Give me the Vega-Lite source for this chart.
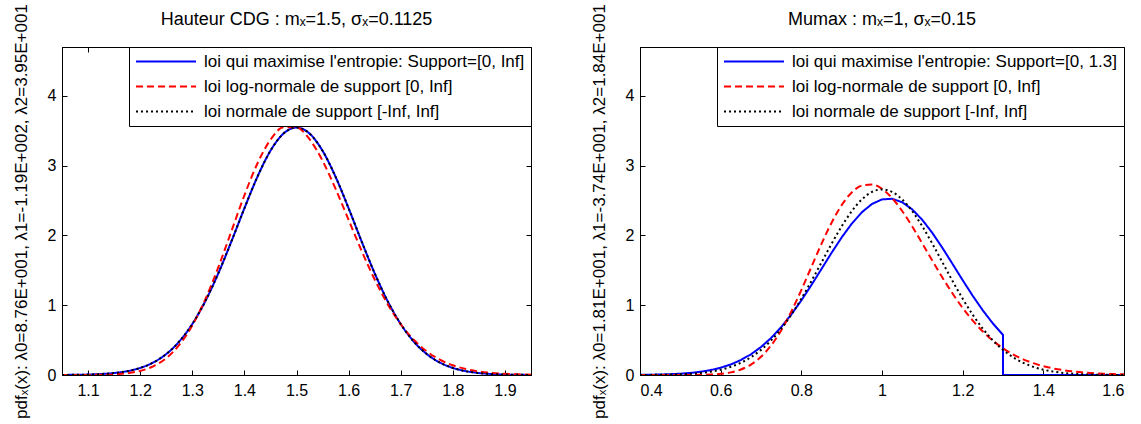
{
  "$schema": "https://vega.github.io/schema/vega-lite/v6.json",
  "padding": {"left": 11, "top": 3, "right": 5, "bottom": 0},
  "background": "white",
  "spacing": 54,
  "datasets": {
    "left": [
      {"s":"max","x":1.05,"y":0.0012},{"s":"max","x":1.075,"y":0.0028},{"s":"max","x":1.1,"y":0.0064},{"s":"max","x":1.125,"y":0.0137},{"s":"max","x":1.15,"y":0.0281},{"s":"max","x":1.175,"y":0.0547},{"s":"max","x":1.2,"y":0.1013},{"s":"max","x":1.225,"y":0.1788},{"s":"max","x":1.25,"y":0.3002},{"s":"max","x":1.275,"y":0.4799},{"s":"max","x":1.3,"y":0.7303},{"s":"max","x":1.325,"y":1.0576},{"s":"max","x":1.35,"y":1.4579},{"s":"max","x":1.375,"y":1.9129},{"s":"max","x":1.4,"y":2.3888},{"s":"max","x":1.425,"y":2.8396},{"s":"max","x":1.45,"y":3.2127},{"s":"max","x":1.475,"y":3.4597},{"s":"max","x":1.5,"y":3.5462},{"s":"max","x":1.525,"y":3.4597},{"s":"max","x":1.55,"y":3.2127},{"s":"max","x":1.575,"y":2.8396},{"s":"max","x":1.6,"y":2.3888},{"s":"max","x":1.625,"y":1.9129},{"s":"max","x":1.65,"y":1.4579},{"s":"max","x":1.675,"y":1.0576},{"s":"max","x":1.7,"y":0.7303},{"s":"max","x":1.725,"y":0.4799},{"s":"max","x":1.75,"y":0.3002},{"s":"max","x":1.775,"y":0.1788},{"s":"max","x":1.8,"y":0.1013},{"s":"max","x":1.825,"y":0.0547},{"s":"max","x":1.85,"y":0.0281},{"s":"max","x":1.875,"y":0.0137},{"s":"max","x":1.9,"y":0.0064},{"s":"max","x":1.925,"y":0.0028},{"s":"max","x":1.95,"y":0.0012},
      {"s":"logn","x":1.05,"y":0.0001},{"s":"logn","x":1.075,"y":0.0003},{"s":"logn","x":1.1,"y":0.0011},{"s":"logn","x":1.125,"y":0.0034},{"s":"logn","x":1.15,"y":0.0098},{"s":"logn","x":1.175,"y":0.0252},{"s":"logn","x":1.2,"y":0.0586},{"s":"logn","x":1.225,"y":0.1242},{"s":"logn","x":1.25,"y":0.241},{"s":"logn","x":1.275,"y":0.43},{"s":"logn","x":1.3,"y":0.7087},{"s":"logn","x":1.325,"y":1.084},{"s":"logn","x":1.35,"y":1.5449},{"s":"logn","x":1.375,"y":2.0588},{"s":"logn","x":1.4,"y":2.5747},{"s":"logn","x":1.425,"y":3.0311},{"s":"logn","x":1.45,"y":3.3701},{"s":"logn","x":1.475,"y":3.5488},{"s":"logn","x":1.5,"y":3.5486},{"s":"logn","x":1.525,"y":3.3785},{"s":"logn","x":1.55,"y":3.0697},{"s":"logn","x":1.575,"y":2.6675},{"s":"logn","x":1.6,"y":2.2222},{"s":"logn","x":1.625,"y":1.7778},{"s":"logn","x":1.65,"y":1.3685},{"s":"logn","x":1.675,"y":1.0156},{"s":"logn","x":1.7,"y":0.7278},{"s":"logn","x":1.725,"y":0.5044},{"s":"logn","x":1.75,"y":0.3386},{"s":"logn","x":1.775,"y":0.2205},{"s":"logn","x":1.8,"y":0.1395},{"s":"logn","x":1.825,"y":0.0858},{"s":"logn","x":1.85,"y":0.0514},{"s":"logn","x":1.875,"y":0.03},{"s":"logn","x":1.9,"y":0.0171},{"s":"logn","x":1.925,"y":0.0095},{"s":"logn","x":1.95,"y":0.0052},
      {"s":"norm","x":1.05,"y":0.0012},{"s":"norm","x":1.075,"y":0.0028},{"s":"norm","x":1.1,"y":0.0064},{"s":"norm","x":1.125,"y":0.0137},{"s":"norm","x":1.15,"y":0.0281},{"s":"norm","x":1.175,"y":0.0547},{"s":"norm","x":1.2,"y":0.1013},{"s":"norm","x":1.225,"y":0.1788},{"s":"norm","x":1.25,"y":0.3002},{"s":"norm","x":1.275,"y":0.4799},{"s":"norm","x":1.3,"y":0.7303},{"s":"norm","x":1.325,"y":1.0576},{"s":"norm","x":1.35,"y":1.4579},{"s":"norm","x":1.375,"y":1.9129},{"s":"norm","x":1.4,"y":2.3888},{"s":"norm","x":1.425,"y":2.8396},{"s":"norm","x":1.45,"y":3.2127},{"s":"norm","x":1.475,"y":3.4597},{"s":"norm","x":1.5,"y":3.5462},{"s":"norm","x":1.525,"y":3.4597},{"s":"norm","x":1.55,"y":3.2127},{"s":"norm","x":1.575,"y":2.8396},{"s":"norm","x":1.6,"y":2.3888},{"s":"norm","x":1.625,"y":1.9129},{"s":"norm","x":1.65,"y":1.4579},{"s":"norm","x":1.675,"y":1.0576},{"s":"norm","x":1.7,"y":0.7303},{"s":"norm","x":1.725,"y":0.4799},{"s":"norm","x":1.75,"y":0.3002},{"s":"norm","x":1.775,"y":0.1788},{"s":"norm","x":1.8,"y":0.1013},{"s":"norm","x":1.825,"y":0.0547},{"s":"norm","x":1.85,"y":0.0281},{"s":"norm","x":1.875,"y":0.0137},{"s":"norm","x":1.9,"y":0.0064},{"s":"norm","x":1.925,"y":0.0028},{"s":"norm","x":1.95,"y":0.0012}
    ],
    "right": [
      {"s":"max","x":0.4,"y":0.0023},{"s":"max","x":0.425,"y":0.0041},{"s":"max","x":0.45,"y":0.0069},{"s":"max","x":0.475,"y":0.0115},{"s":"max","x":0.5,"y":0.0187},{"s":"max","x":0.525,"y":0.0298},{"s":"max","x":0.55,"y":0.0462},{"s":"max","x":0.575,"y":0.0702},{"s":"max","x":0.6,"y":0.1042},{"s":"max","x":0.625,"y":0.151},{"s":"max","x":0.65,"y":0.2141},{"s":"max","x":0.675,"y":0.2964},{"s":"max","x":0.7,"y":0.4011},{"s":"max","x":0.725,"y":0.5304},{"s":"max","x":0.75,"y":0.6856},{"s":"max","x":0.775,"y":0.8659},{"s":"max","x":0.8,"y":1.0688},{"s":"max","x":0.825,"y":1.2892},{"s":"max","x":0.85,"y":1.5198},{"s":"max","x":0.875,"y":1.7509},{"s":"max","x":0.9,"y":1.9711},{"s":"max","x":0.925,"y":2.1687},{"s":"max","x":0.95,"y":2.3318},{"s":"max","x":0.975,"y":2.4502},{"s":"max","x":1,"y":2.516},{"s":"max","x":1.025,"y":2.5248},{"s":"max","x":1.05,"y":2.476},{"s":"max","x":1.075,"y":2.373},{"s":"max","x":1.1,"y":2.2225},{"s":"max","x":1.125,"y":2.0342},{"s":"max","x":1.15,"y":1.8195},{"s":"max","x":1.175,"y":1.5905},{"s":"max","x":1.2,"y":1.3587},{"s":"max","x":1.225,"y":1.1343},{"s":"max","x":1.25,"y":0.9254},{"s":"max","x":1.275,"y":0.7378},{"s":"max","x":1.3,"y":0.5748},{"s":"max","x":1.3,"y":0},{"s":"max","x":1.6,"y":0},
      {"s":"logn","x":0.4,"y":0},{"s":"logn","x":0.425,"y":0},{"s":"logn","x":0.45,"y":0},{"s":"logn","x":0.475,"y":0},{"s":"logn","x":0.5,"y":0.0002},{"s":"logn","x":0.525,"y":0.0006},{"s":"logn","x":0.55,"y":0.0021},{"s":"logn","x":0.575,"y":0.0063},{"s":"logn","x":0.6,"y":0.0163},{"s":"logn","x":0.625,"y":0.0377},{"s":"logn","x":0.65,"y":0.0786},{"s":"logn","x":0.675,"y":0.1494},{"s":"logn","x":0.7,"y":0.2612},{"s":"logn","x":0.725,"y":0.423},{"s":"logn","x":0.75,"y":0.6392},{"s":"logn","x":0.775,"y":0.9078},{"s":"logn","x":0.8,"y":1.2174},{"s":"logn","x":0.825,"y":1.5496},{"s":"logn","x":0.85,"y":1.8799},{"s":"logn","x":0.875,"y":2.1826},{"s":"logn","x":0.9,"y":2.4341},{"s":"logn","x":0.925,"y":2.6152},{"s":"logn","x":0.95,"y":2.715},{"s":"logn","x":0.975,"y":2.7306},{"s":"logn","x":1,"y":2.667},{"s":"logn","x":1.025,"y":2.535},{"s":"logn","x":1.05,"y":2.3496},{"s":"logn","x":1.075,"y":2.1275},{"s":"logn","x":1.1,"y":1.8848},{"s":"logn","x":1.125,"y":1.6363},{"s":"logn","x":1.15,"y":1.3942},{"s":"logn","x":1.175,"y":1.1672},{"s":"logn","x":1.2,"y":0.9613},{"s":"logn","x":1.225,"y":0.7796},{"s":"logn","x":1.25,"y":0.6233},{"s":"logn","x":1.275,"y":0.4917},{"s":"logn","x":1.3,"y":0.3831},{"s":"logn","x":1.325,"y":0.295},{"s":"logn","x":1.35,"y":0.2247},{"s":"logn","x":1.375,"y":0.1695},{"s":"logn","x":1.4,"y":0.1265},{"s":"logn","x":1.425,"y":0.0936},{"s":"logn","x":1.45,"y":0.0686},{"s":"logn","x":1.475,"y":0.05},{"s":"logn","x":1.5,"y":0.0361},{"s":"logn","x":1.525,"y":0.0259},{"s":"logn","x":1.55,"y":0.0185},{"s":"logn","x":1.575,"y":0.0131},{"s":"logn","x":1.6,"y":0.0092},
      {"s":"norm","x":0.4,"y":0.0009},{"s":"norm","x":0.425,"y":0.0017},{"s":"norm","x":0.45,"y":0.0032},{"s":"norm","x":0.475,"y":0.0058},{"s":"norm","x":0.5,"y":0.0103},{"s":"norm","x":0.525,"y":0.0177},{"s":"norm","x":0.55,"y":0.0295},{"s":"norm","x":0.575,"y":0.0481},{"s":"norm","x":0.6,"y":0.076},{"s":"norm","x":0.625,"y":0.1169},{"s":"norm","x":0.65,"y":0.1748},{"s":"norm","x":0.675,"y":0.2544},{"s":"norm","x":0.7,"y":0.3599},{"s":"norm","x":0.725,"y":0.4954},{"s":"norm","x":0.75,"y":0.6632},{"s":"norm","x":0.775,"y":0.8634},{"s":"norm","x":0.8,"y":1.0934},{"s":"norm","x":0.825,"y":1.3466},{"s":"norm","x":0.85,"y":1.6131},{"s":"norm","x":0.875,"y":1.8794},{"s":"norm","x":0.9,"y":2.1297},{"s":"norm","x":0.925,"y":2.3471},{"s":"norm","x":0.95,"y":2.5159},{"s":"norm","x":0.975,"y":2.6229},{"s":"norm","x":1,"y":2.6596},{"s":"norm","x":1.025,"y":2.6229},{"s":"norm","x":1.05,"y":2.5159},{"s":"norm","x":1.075,"y":2.3471},{"s":"norm","x":1.1,"y":2.1297},{"s":"norm","x":1.125,"y":1.8794},{"s":"norm","x":1.15,"y":1.6131},{"s":"norm","x":1.175,"y":1.3466},{"s":"norm","x":1.2,"y":1.0934},{"s":"norm","x":1.225,"y":0.8634},{"s":"norm","x":1.25,"y":0.6632},{"s":"norm","x":1.275,"y":0.4954},{"s":"norm","x":1.3,"y":0.3599},{"s":"norm","x":1.325,"y":0.2544},{"s":"norm","x":1.35,"y":0.1748},{"s":"norm","x":1.375,"y":0.1169},{"s":"norm","x":1.4,"y":0.076},{"s":"norm","x":1.425,"y":0.0481},{"s":"norm","x":1.45,"y":0.0295},{"s":"norm","x":1.475,"y":0.0177},{"s":"norm","x":1.5,"y":0.0103},{"s":"norm","x":1.525,"y":0.0058},{"s":"norm","x":1.55,"y":0.0032},{"s":"norm","x":1.575,"y":0.0017},{"s":"norm","x":1.6,"y":0.0009}
    ]
  },
  "hconcat": [
    {
      "width": 469,
      "height": 328,
      "data": {"name": "left"},
      "title": {"text": "Hauteur CDG : mₓ=1.5, σₓ=0.1125", "offset": -25},
      "layer": [
        {
          "mark": {"type": "line", "strokeWidth": 2, "clip": true, "interpolate": "monotone"},
          "encoding": {
            "x": {"field": "x", "type": "quantitative", "scale": {"domain": [1.05, 1.95], "nice": false, "zero": false},
                  "axis": {"title": null, "values": [1.1,1.2,1.3,1.4,1.5,1.6,1.7,1.8,1.9], "format": "~g", "labelPadding": 12}},
            "y": {"field": "y", "type": "quantitative", "scale": {"domain": [0, 4.7], "nice": false},
                  "axis": {"title": "pdfₓ(x): λ0=8.76E+001, λ1=-1.19E+002, λ2=3.95E+001", "values": [0,1,2,3,4], "titlePadding": 17, "labelPadding": 11}},
            "color": {"field": "s", "type": "nominal", "scale": {"domain": ["max","logn","norm"], "range": ["#0000FF","#FF0000","#000000"]},
                      "legend": {"title": null, "labelExpr": "datum.label == 'max' ? \"loi qui maximise l'entropie: Support=[0, Inf]\" : datum.label == 'logn' ? 'loi log-normale de support [0, Inf]' : 'loi normale de support [-Inf, Inf]'"}},
            "strokeDash": {"field": "s", "type": "nominal", "scale": {"domain": ["max","logn","norm"], "range": [[1,0],[7,4],[2,3]]},
                      "legend": {"title": null, "labelExpr": "datum.label == 'max' ? \"loi qui maximise l'entropie: Support=[0, Inf]\" : datum.label == 'logn' ? 'loi log-normale de support [0, Inf]' : 'loi normale de support [-Inf, Inf]'"}},
            "order": {"value": null}
          }
        },
        {
          "mark": {"type": "point", "opacity": 0},
          "encoding": {
            "x": {"field": "x", "type": "quantitative", "axis": {"orient": "top", "labels": false, "title": null, "values": [1.1,1.2,1.3,1.4,1.5,1.6,1.7,1.8,1.9]}},
            "y": {"field": "y", "type": "quantitative", "axis": {"orient": "right", "labels": false, "title": null, "values": [0,1,2,3,4]}}
          }
        }
      ],
      "resolve": {"axis": {"x": "independent", "y": "independent"}}
    },
    {
      "width": 484,
      "height": 328,
      "data": {"name": "right"},
      "title": {"text": "Mumax : mₓ=1, σₓ=0.15", "offset": -25},
      "layer": [
        {
          "transform": [{"filter": "datum.s == 'max'"}],
          "mark": {"type": "line", "strokeWidth": 2, "clip": true, "interpolate": "linear"},
          "encoding": {
            "x": {"field": "x", "type": "quantitative", "scale": {"domain": [0.4, 1.6], "nice": false, "zero": false},
                  "axis": {"title": null, "values": [0.4,0.6,0.8,1,1.2,1.4,1.6], "format": "~g", "labelPadding": 12}},
            "y": {"field": "y", "type": "quantitative", "scale": {"domain": [0, 4.7], "nice": false},
                  "axis": {"title": "pdfₓ(x): λ0=1.81E+001, λ1=-3.74E+001, λ2=1.84E+001", "values": [0,1,2,3,4], "titlePadding": 17, "labelPadding": 11}},
            "color": {"field": "s", "type": "nominal", "scale": {"domain": ["max","logn","norm"], "range": ["#0000FF","#FF0000","#000000"]},
                      "legend": {"title": null, "labelExpr": "datum.label == 'max' ? \"loi qui maximise l'entropie: Support=[0, 1.3]\" : datum.label == 'logn' ? 'loi log-normale de support [0, Inf]' : 'loi normale de support [-Inf, Inf]'"}},
            "strokeDash": {"field": "s", "type": "nominal", "scale": {"domain": ["max","logn","norm"], "range": [[1,0],[7,4],[2,3]]},
                      "legend": {"title": null, "labelExpr": "datum.label == 'max' ? \"loi qui maximise l'entropie: Support=[0, 1.3]\" : datum.label == 'logn' ? 'loi log-normale de support [0, Inf]' : 'loi normale de support [-Inf, Inf]'"}},
            "order": {"value": null}
          }
        },
        {
          "transform": [{"filter": "datum.s != 'max'"}],
          "mark": {"type": "line", "strokeWidth": 2, "clip": true, "interpolate": "monotone"},
          "encoding": {
            "x": {"field": "x", "type": "quantitative", "axis": null},
            "y": {"field": "y", "type": "quantitative", "axis": null},
            "color": {"field": "s", "type": "nominal"},
            "strokeDash": {"field": "s", "type": "nominal"},
            "order": {"value": null}
          }
        },
        {
          "mark": {"type": "point", "opacity": 0},
          "encoding": {
            "x": {"field": "x", "type": "quantitative", "axis": {"orient": "top", "labels": false, "title": null, "values": [0.4,0.6,0.8,1,1.2,1.4,1.6]}},
            "y": {"field": "y", "type": "quantitative", "axis": {"orient": "right", "labels": false, "title": null, "values": [0,1,2,3,4]}}
          }
        }
      ],
      "resolve": {"axis": {"x": "independent", "y": "independent"}}
    }
  ],
  "resolve": {
    "scale": {"x": "independent", "y": "independent", "color": "independent", "strokeDash": "independent"},
    "legend": {"color": "independent", "strokeDash": "independent"}
  },
  "config": {
    "font": "Liberation Sans",
    "view": {"stroke": "black", "strokeWidth": 1},
    "axis": {
      "grid": false, "domainColor": "black", "domainWidth": 1, "tickColor": "black", "tickSize": -5, "tickWidth": 1,
      "labelColor": "black", "labelFontSize": 16, "labelPadding": 7, "labelFont": "Liberation Sans",
      "titleColor": "black", "titleFontSize": 17, "titleFontWeight": "normal", "titleFont": "Liberation Sans"
    },
    "legend": {
      "orient": "top-right", "offset": 0, "padding": 6, "strokeColor": "black", "fillColor": "white",
      "labelFontSize": 17, "labelColor": "black", "labelFont": "Liberation Sans", "clipHeight": 17, "rowPadding": 7,
      "symbolType": "stroke", "symbolSize": 3600, "symbolStrokeWidth": 2, "labelOffset": 7, "labelLimit": 0, "cornerRadius": 0
    },
    "title": {"fontSize": 18, "fontWeight": "normal", "color": "black", "font": "Liberation Sans"}
  }
}
